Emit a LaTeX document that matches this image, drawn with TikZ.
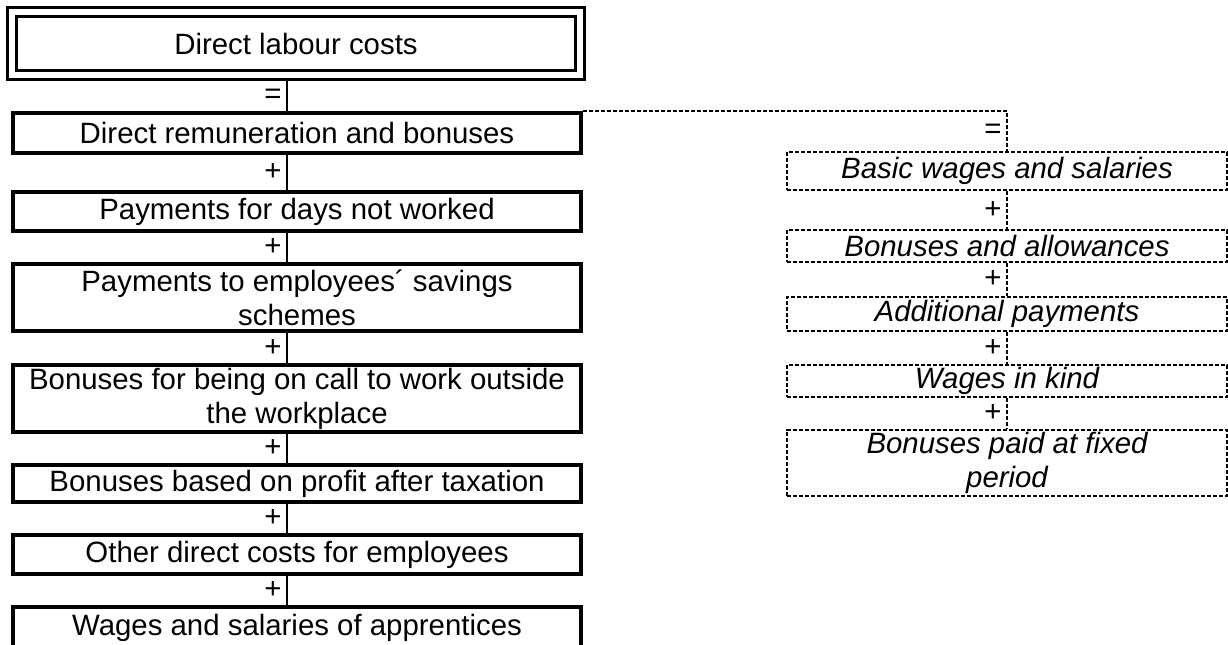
\documentclass[tikz,border=0pt]{standalone}
\usepackage{fontspec}
\setmainfont{Liberation Sans}
\begin{document}
\begin{tikzpicture} [x=0.025cm, y=-0.025cm,
    every node/.style={font=\fontsize{20.9pt}{24.1pt}\selectfont},
    costbox/.style={draw, line width=0.085cm, minimum width=14.2cm, align=center, inner xsep=2pt, inner ysep=0pt},
    partbox/.style={draw, line width=0.04cm, dash pattern=on 0.1cm off 0.05cm, minimum width=11cm, align=center,
      inner xsep=2pt, inner ysep=0pt, font=\fontsize{20.9pt}{24.1pt}\selectfont\itshape},
    link/.style={line width=0.04cm},
    partlink/.style={line width=0.04cm, dash pattern=on 0.1cm off 0.05cm}]
  \useasboundingbox (0,0) rectangle (1228,644);
  \node [costbox, double, double distance=0.15cm, line width=0.075cm, outer sep=0.15cm,
    minimum width=14.19cm, minimum height=1.575cm] (total) at (296,43.5) {Direct labour costs};
  \coordinate (sepL) at (287,0);
  \node [costbox, minimum height=1.0cm] (rem) at (297,133) {Direct remuneration and bonuses};
  \node [costbox, minimum height=0.975cm] (notworked) at (297,211.5) {Payments for days not worked};
  \node [costbox, minimum height=1.675cm] (savings) at (297,297.5) {Payments to employees´ savings\\schemes};
  \node [costbox, minimum height=1.675cm] (oncall) at (297,398.5) {Bonuses for being on call to work outside\\the workplace};
  \node [costbox, minimum height=0.925cm] (profit) at (297,483.5) {Bonuses based on profit after taxation};
  \node [costbox, minimum height=0.975cm] (other) at (297,554.5) {Other direct costs for employees};
  \node [costbox, minimum height=1.05cm] (apprent) at (297,628) {Wages and salaries of apprentices};
  \draw [link] (total.south -| sepL) -- node [left] {=} (rem.north -| sepL);
  \draw [link] (rem.south -| sepL) -- node [left] {+} (notworked.north -| sepL);
  \draw [link] (notworked.south -| sepL) -- node [left] {+} (savings.north -| sepL);
  \draw [link] (savings.south -| sepL) -- node [left] {+} (oncall.north -| sepL);
  \draw [link] (oncall.south -| sepL) -- node [left] {+} (profit.north -| sepL);
  \draw [link] (profit.south -| sepL) -- node [left] {+} (other.north -| sepL);
  \draw [link] (other.south -| sepL) -- node [left] {+} (apprent.north -| sepL);
  \node [partbox, minimum height=0.95cm] (basic) at (1007,171) {Basic wages and salaries};
  \node [partbox, minimum height=0.8cm] (allow) at (1007,246) {Bonuses and allowances};
  \node [partbox, minimum height=0.85cm] (addit) at (1007,314) {Additional payments};
  \node [partbox, minimum height=0.8cm] (kind) at (1007,381) {Wages in kind};
  \node [partbox, minimum height=1.65cm] (fixed) at (1007,463) {Bonuses paid at fixed\\period};
  \draw [partlink] (rem.north east) -| node [pos=0.75, left] {=} (basic.north);
  \draw [partlink] (basic) -- node [left] {+} (allow);
  \draw [partlink] (allow) -- node [left] {+} (addit);
  \draw [partlink] (addit) -- node [left] {+} (kind);
  \draw [partlink] (kind) -- node [left] {+} (fixed);
\end{tikzpicture}
\end{document}
